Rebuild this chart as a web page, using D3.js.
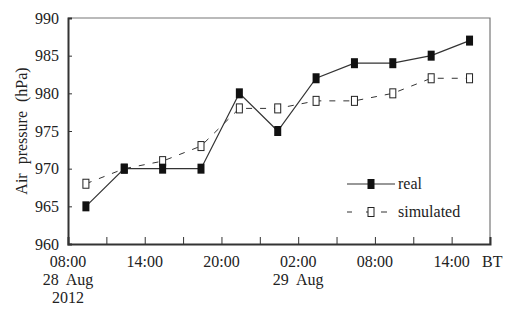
<!DOCTYPE html>
<html>
<head>
<meta charset="utf-8">
<script src="https://cdn.jsdelivr.net/npm/d3@7"></script>
<style>
  body { margin: 0; background: #fff; }
  text { font-family: "Liberation Serif", "DejaVu Serif", serif; fill: #222; }
</style>
</head>
<body>
<div id="chart"></div>
<script>
// hours after 08:00 BT, 28 Aug 2012
var hours     = [1.4, 4.4, 7.4, 10.4, 13.4, 16.4, 19.4, 22.4, 25.4, 28.4, 31.4];
var real      = [965, 970, 970, 970, 980, 975, 982, 984, 984, 985, 987];
var simulated = [968, 970, 971, 973, 978, 978, 979, 979, 980, 982, 982];

var xTicks  = [0, 3, 6, 9, 12, 15, 18, 21, 24, 27, 30, 33];
var xLabels = {0: ["08:00", "28 Aug", "2012"], 6: ["14:00"], 12: ["20:00"],
               18: ["02:00", "29 Aug"], 24: ["08:00"], 30: ["14:00"]};
var yTicks  = [960, 965, 970, 975, 980, 985, 990];

var W = 520, H = 318;
var margin = {top: 18, right: 30, bottom: 74, left: 68};

var x = d3.scaleLinear().domain([0, 33]).range([margin.left, W - margin.right]);
var y = d3.scaleLinear().domain([960, 990]).range([H - margin.bottom, margin.top]);

var svg = d3.select("#chart").append("svg")
            .attr("width", W)
            .attr("height", H);

// thin frame on top / right
svg.append("path")
   .attr("d", "M" + x(0) + "," + y(990) + "H" + x(33) + "V" + y(960))
   .attr("fill", "none")
   .attr("stroke", "#777")
   .attr("stroke-width", 1.2);

// y axis, ticks pointing inwards
var yAxis = d3.axisLeft(y).tickValues(yTicks).tickSize(-4).tickPadding(9);
var gy = svg.append("g")
   .attr("transform", "translate(" + x(0) + ",0)")
   .call(yAxis);
gy.select(".domain").attr("stroke", "#333").attr("stroke-width", 2);
gy.selectAll(".tick line").attr("stroke", "#333");
gy.selectAll("text").attr("font-size", 16).style("font-family", "Liberation Serif");

// x axis, ticks pointing up
var xAxis = d3.axisBottom(x).tickValues(xTicks).tickSize(-7).tickFormat("");
var gx = svg.append("g")
   .attr("transform", "translate(0," + y(960) + ")")
   .call(xAxis);
gx.select(".domain").attr("stroke", "#333").attr("stroke-width", 2);
gx.selectAll(".tick line").attr("stroke", "#333");

// multi line labels under the axis
var lab = svg.append("g").selectAll("text")
   .data(Object.keys(xLabels))
   .join("text")
   .attr("x", function(d) { return x(+d); })
   .attr("y", y(960) + 23)
   .attr("text-anchor", "middle")
   .attr("font-size", 16);
lab.selectAll("tspan")
   .data(function(d) { return xLabels[d]; })
   .join("tspan")
   .attr("x", function() { return this.parentNode.getAttribute("x"); })
   .attr("dy", function(d, i) { return i ? 18 : 0; })
   .style("word-spacing", "4px")
   .text(function(d) { return d; });

svg.append("text")
   .attr("x", x(33) - 8)
   .attr("y", y(960) + 23)
   .attr("font-size", 16)
   .text("BT");

svg.append("text")
   .attr("transform", "translate(27," + (y(975)) + ") rotate(-90)")
   .attr("text-anchor", "middle")
   .attr("font-size", 16)
   .style("word-spacing", "5px")
   .text("Air pressure (hPa)");

// series
var realPts = hours.map(function(h, i) { return [h, real[i]]; });
var simPts  = hours.map(function(h, i) { return [h, simulated[i]]; });

var line = d3.line()
   .x(function(d) { return x(d[0]); })
   .y(function(d) { return y(d[1]); });

svg.append("path")
   .datum(simPts)
   .attr("d", line)
   .attr("fill", "none")
   .attr("stroke", "#333")
   .attr("stroke-width", 1)
   .attr("stroke-dasharray", "6,8");

svg.append("path")
   .datum(realPts)
   .attr("d", line)
   .attr("fill", "none")
   .attr("stroke", "#333")
   .attr("stroke-width", 1.2);

var mw = 6, mh = 9;
svg.append("g").selectAll("rect")
   .data(simPts)
   .join("rect")
   .attr("x", function(d) { return x(d[0]) - mw / 2; })
   .attr("y", function(d) { return y(d[1]) - mh / 2; })
   .attr("width", mw)
   .attr("height", mh)
   .attr("fill", "#fff")
   .attr("stroke", "#222")
   .attr("stroke-width", 1);

svg.append("g").selectAll("rect")
   .data(realPts)
   .join("rect")
   .attr("x", function(d) { return x(d[0]) - mw / 2 - 0.5; })
   .attr("y", function(d) { return y(d[1]) - mh / 2 - 0.5; })
   .attr("width", mw + 1)
   .attr("height", mh + 1)
   .attr("fill", "#111");

// legend
var lg = svg.append("g");
lg.append("line")
   .attr("x1", 347).attr("x2", 395).attr("y1", 184).attr("y2", 184)
   .attr("stroke", "#333").attr("stroke-width", 1.2);
lg.append("rect")
   .attr("x", 371 - mw / 2 - 0.5).attr("y", 184 - mh / 2 - 0.5)
   .attr("width", mw + 1).attr("height", mh + 1)
   .attr("fill", "#111");
lg.append("text").attr("x", 398).attr("y", 189).attr("font-size", 16).text("real");

lg.append("line")
   .attr("x1", 347).attr("x2", 395).attr("y1", 212).attr("y2", 212)
   .attr("stroke", "#333").attr("stroke-width", 1)
   .attr("stroke-dasharray", "5,14,6,9,6,14");
lg.append("rect")
   .attr("x", 371 - mw / 2).attr("y", 212 - mh / 2)
   .attr("width", mw).attr("height", mh)
   .attr("fill", "#fff").attr("stroke", "#222");
lg.append("text").attr("x", 398).attr("y", 217).attr("font-size", 16).text("simulated");
</script>
</body>
</html>
